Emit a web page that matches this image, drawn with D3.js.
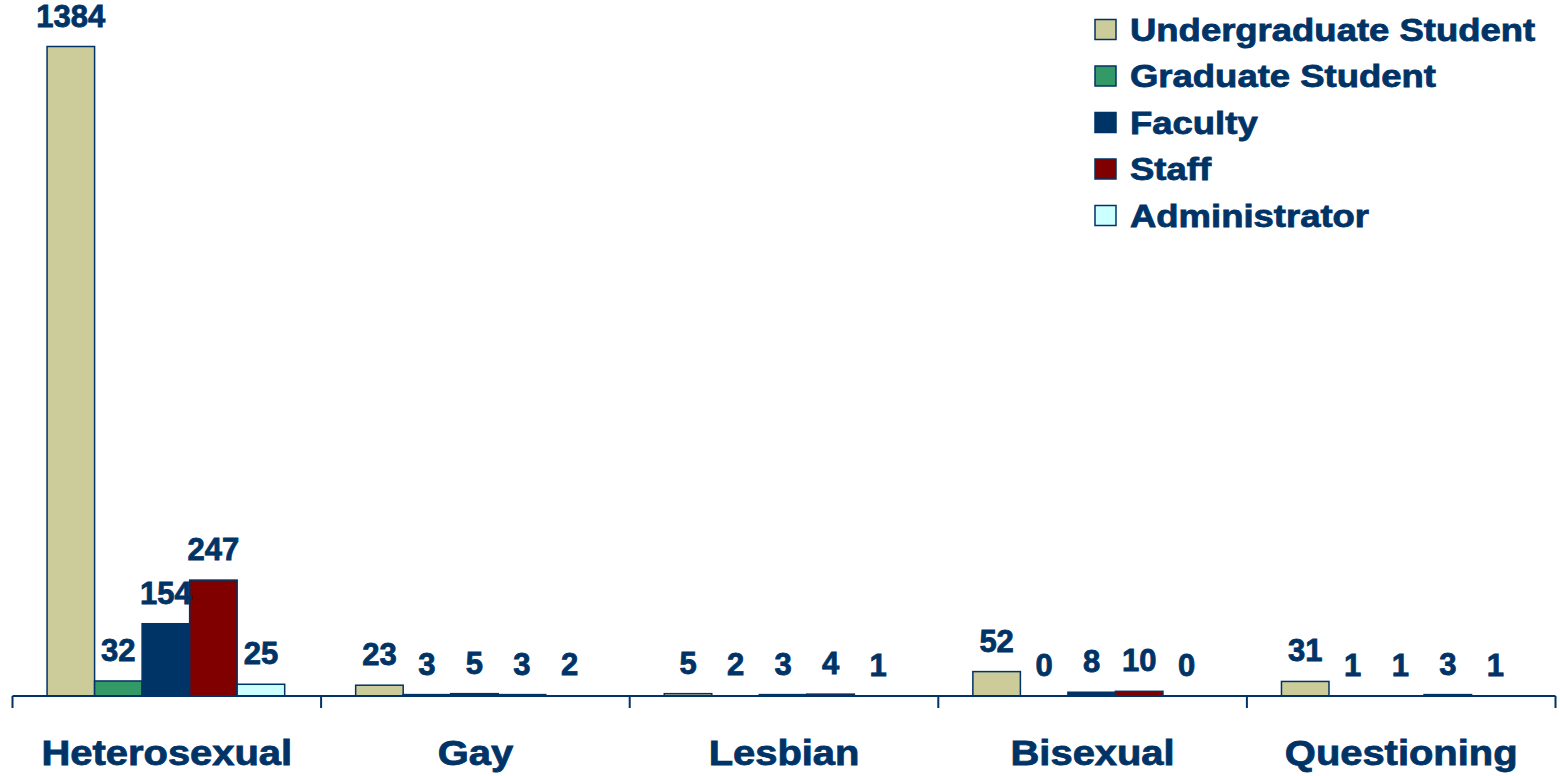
<!DOCTYPE html>
<html>
<head>
<meta charset="utf-8">
<script src="https://cdn.jsdelivr.net/npm/d3@7"></script>
<style>
  body { margin: 0; background: #fff; }
  text { font-family: "Liberation Sans", Arial, sans-serif; font-weight: bold; fill: #003366;
         stroke: #003366; stroke-width: 0.8px; }
</style>
</head>
<body>
<script>
// data
var categories = ['Heterosexual', 'Gay', 'Lesbian', 'Bisexual', 'Questioning'];
var seriesNames = ['Undergraduate Student', 'Graduate Student', 'Faculty', 'Staff', 'Administrator'];
var seriesColors = ['#cccc9a', '#339966', '#003366', '#800000', '#ccffff'];
var undergrad = [1384, 23, 5, 52, 31];
var graduate = [32, 3, 2, 0, 1];
var faculty = [154, 5, 3, 8, 1];
var staff = [247, 3, 4, 10, 3];
var administrator = [25, 2, 1, 0, 1];
var seriesValues = [undergrad, graduate, faculty, staff, administrator];

function plot_it() {
    var svg_width = 1560, svg_height = 776;
    var navy = '#003366';
    var wordStretch = 1.14; // the original lettering is a bit wider than arial

    var svg = d3.select('body').append('svg').attr('width', svg_width).attr('height', svg_height);

    // scales
    var x0 = d3.scaleBand().domain(categories).range([12.5, 1555.5]).padding(0);
    var x1 = d3.scaleBand().domain(seriesNames)
        .range([x0.bandwidth() * 0.112, x0.bandwidth() * 0.882]).padding(0);
    var y = d3.scaleLinear().domain([0, 1384]).range([696, 46.5]);

    // flatten into bar records
    var bars = [];
    categories.forEach((c, ci) => {
        seriesNames.forEach((s, si) => {
            bars.push({cat: c, series: s, si: si, value: seriesValues[si][ci]});
        });
    });

    var groups = svg.selectAll('g.cat').data(categories).enter().append('g')
        .attr('class', 'cat')
        .attr('transform', d => 'translate(' + x0(d) + ',0)');

    // bars (values under ~1px tall vanish in the original)
    groups.selectAll('rect').data(c => bars.filter(b => b.cat == c && (y(0) - y(b.value)) > 1.2))
        .enter().append('rect')
        .attr('x', d => x1(d.series))
        .attr('y', d => y(d.value))
        .attr('width', x1.bandwidth())
        .attr('height', d => y(0) - y(d.value))
        .attr('fill', d => seriesColors[d.si])
        .attr('stroke', navy).attr('stroke-width', 1.5);

    // value labels
    groups.selectAll('text.val').data(c => bars.filter(b => b.cat == c))
        .enter().append('text')
        .attr('class', 'val')
        .attr('x', d => x1(d.series) + x1.bandwidth() / 2)
        .attr('y', d => y(d.value) - 20)
        .attr('text-anchor', 'middle')
        .style('font-size', '31px')
        .text(d => d.value);

    // axis line + ticks on band edges
    var axis = svg.append('g');
    axis.append('line')
        .attr('x1', x0.range()[0]).attr('x2', x0.range()[1])
        .attr('y1', y(0)).attr('y2', y(0))
        .attr('stroke', navy).attr('stroke-width', 2);
    var tickXs = categories.map(c => x0(c)).concat([x0.range()[1]]);
    axis.selectAll('line.tick').data(tickXs).enter().append('line')
        .attr('class', 'tick')
        .attr('x1', d => d).attr('x2', d => d)
        .attr('y1', y(0)).attr('y2', y(0) + 12)
        .attr('stroke', navy).attr('stroke-width', 2);

    // category labels
    axis.selectAll('text.cat').data(categories).enter().append('text')
        .attr('class', 'cat')
        .attr('transform', d => 'translate(' + (x0(d) + x0.bandwidth() / 2) + ',765) scale(' + wordStretch + ',1)')
        .attr('text-anchor', 'middle')
        .style('font-size', '35px')
        .text(d => d);

    // legend
    var legend = svg.append('g').attr('transform', 'translate(1095,19.5)');
    var rows = legend.selectAll('g').data(seriesNames).enter().append('g')
        .attr('transform', (d, i) => 'translate(0,' + (i * 46.5) + ')');
    rows.append('rect')
        .attr('x', 0).attr('y', 0).attr('width', 21).attr('height', 20)
        .attr('fill', (d, i) => seriesColors[i])
        .attr('stroke', navy).attr('stroke-width', 1.5);
    rows.append('text')
        .attr('transform', 'translate(35,21) scale(' + wordStretch + ',1)')
        .style('font-size', '32px')
        .text(d => d);
}
plot_it();
</script>
</body>
</html>
